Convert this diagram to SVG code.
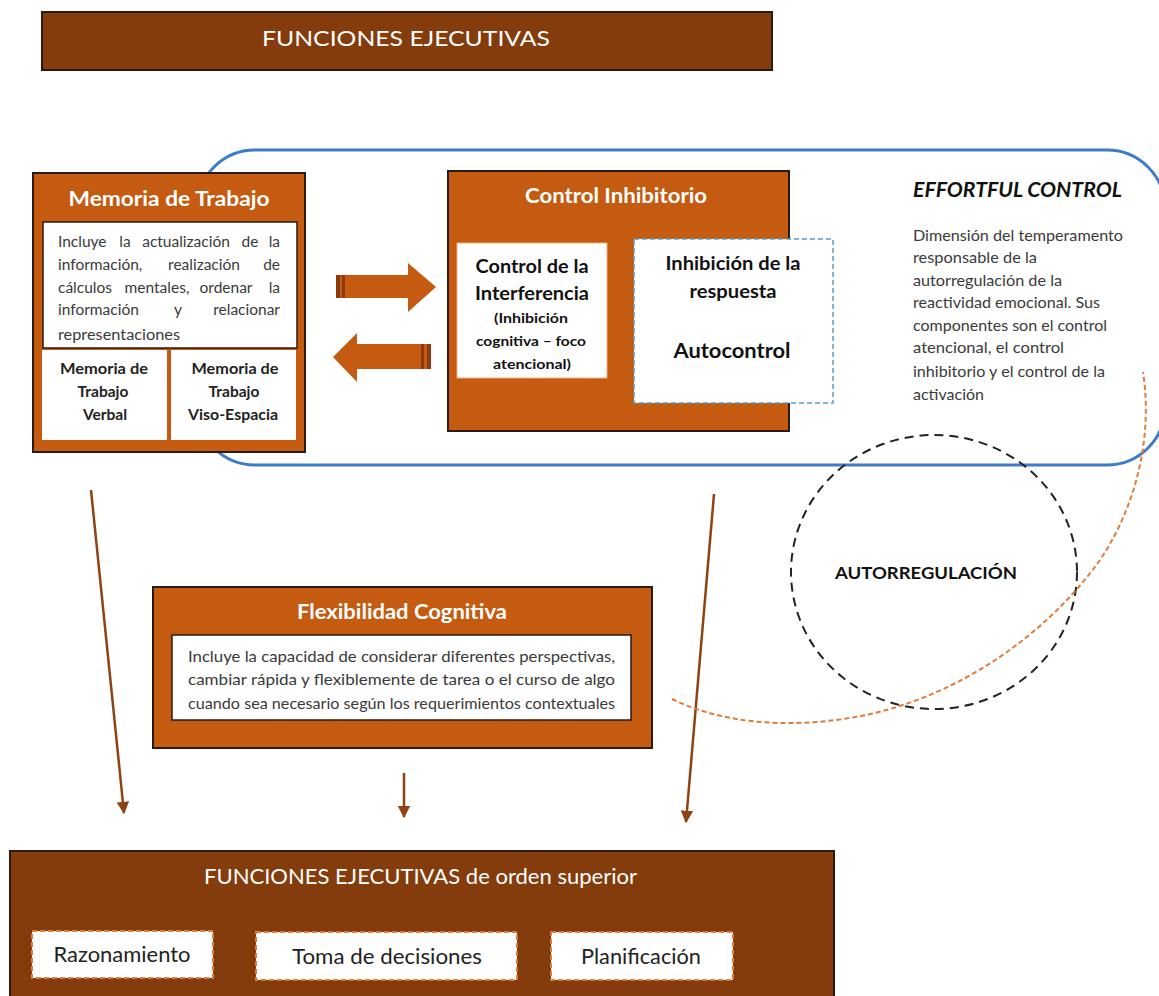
<svg xmlns="http://www.w3.org/2000/svg" width="1159" height="996" viewBox="0 0 1159 996">
  <style>
    .sans { font-family: Lato, "Liberation Sans", "DejaVu Sans", sans-serif; }
    .dark { fill: #843c0c; stroke: #2b1a10; stroke-width: 2; }
    .orange { fill: #c55a11; stroke: #2b1a10; stroke-width: 2; }
    .white { fill: #ffffff; }
    .ttl { fill: #ffffff; font-weight: bold; text-anchor: middle; }
    .body { fill: #3a3a3a; }
    .cell { fill: #222222; font-weight: bold; font-size: 15.5px; text-anchor: middle; }
    .conn { stroke: #8f4314; stroke-width: 2.5; fill: none; }
  </style>
  <defs>
    <marker id="ah" viewBox="0 0 10 10" refX="9" refY="5" markerWidth="5" markerHeight="5" orient="auto" markerUnits="strokeWidth">
      <path d="M0,0 L10,5 L0,10 z" fill="#8f4314"/>
    </marker>
    <clipPath id="memClip"><rect x="43" y="222" width="254" height="121"/></clipPath>
  </defs>
  <rect width="1159" height="996" fill="#ffffff"/>

  <!-- title banner -->
  <g id="banner">
    <rect class="dark" x="42" y="12" width="730" height="58"/>
    <text class="sans" x="262" y="46" fill="#ffffff" font-size="22" textLength="288" lengthAdjust="spacingAndGlyphs">FUNCIONES EJECUTIVAS</text>
  </g>

  <!-- effortful control outline -->
  <g id="effortful">
    <rect x="197" y="150" width="968" height="315" rx="58" fill="none" stroke="#3d7cc9" stroke-width="3"/>
    <text class="sans" x="913" y="197" font-size="20" font-weight="bold" font-style="italic" fill="#111111" textLength="209" lengthAdjust="spacingAndGlyphs">EFFORTFUL CONTROL</text>
    <g class="sans body" font-size="15">
      <text x="913" y="241" textLength="210" lengthAdjust="spacingAndGlyphs">Dimensión del temperamento</text>
      <text x="913" y="263" textLength="124" lengthAdjust="spacingAndGlyphs">responsable de la</text>
      <text x="913" y="286" textLength="149" lengthAdjust="spacingAndGlyphs">autorregulación de la</text>
      <text x="913" y="308" textLength="187" lengthAdjust="spacingAndGlyphs">reactividad emocional. Sus</text>
      <text x="913" y="331" textLength="194" lengthAdjust="spacingAndGlyphs">componentes son el control</text>
      <text x="913" y="353" textLength="151" lengthAdjust="spacingAndGlyphs">atencional, el control</text>
      <text x="913" y="377" textLength="192" lengthAdjust="spacingAndGlyphs">inhibitorio y el control de la</text>
      <text x="913" y="400" textLength="71" lengthAdjust="spacingAndGlyphs">activación</text>
    </g>
  </g>

  <!-- working memory -->
  <g id="memoria">
    <rect class="orange" x="33" y="173" width="272" height="279"/>
    <text class="sans ttl" x="169" y="206" font-size="21.5" textLength="201" lengthAdjust="spacingAndGlyphs">Memoria de Trabajo</text>
    <rect x="43" y="222" width="254" height="126" fill="#ffffff" stroke="#2b1a10" stroke-width="1.5"/>
    <!-- justified paragraph: words placed one by one; the last line runs under the box edge -->
    <g class="sans body" font-size="15.5" clip-path="url(#memClip)">
      <text x="58" y="247">Incluye</text>
      <text x="125" y="247" text-anchor="middle">la</text>
      <text x="186" y="247" text-anchor="middle">actualización</text>
      <text x="250" y="247" text-anchor="middle">de</text>
      <text x="280" y="247" text-anchor="end">la</text>
      <text x="58" y="270">información,</text>
      <text x="204" y="270" text-anchor="middle">realización</text>
      <text x="280" y="270" text-anchor="end">de</text>
      <text x="58" y="293">cálculos</text>
      <text x="157" y="293" text-anchor="middle">mentales,</text>
      <text x="226" y="293" text-anchor="middle">ordenar</text>
      <text x="280" y="293" text-anchor="end">la</text>
      <text x="58" y="315">información</text>
      <text x="178" y="315" text-anchor="middle">y</text>
      <text x="280" y="315" text-anchor="end">relacionar</text>
      <text x="58" y="340" textLength="122" lengthAdjust="spacingAndGlyphs">representaciones</text>
    </g>
    <rect class="white" x="42" y="350" width="125" height="90"/>
    <rect class="white" x="171" y="350" width="125" height="90"/>
    <g class="sans cell">
      <text x="104" y="374" textLength="88" lengthAdjust="spacingAndGlyphs">Memoria de</text>
      <text x="103" y="397">Trabajo</text>
      <text x="105" y="420">Verbal</text>
      <text x="235" y="374" textLength="87" lengthAdjust="spacingAndGlyphs">Memoria de</text>
      <text x="234" y="397">Trabajo</text>
      <text x="233" y="420" textLength="90" lengthAdjust="spacingAndGlyphs">Viso-Espacia</text>
    </g>
  </g>

  <!-- inhibitory control -->
  <g id="control">
    <rect class="orange" x="448" y="171" width="341" height="260"/>
    <text class="sans ttl" x="616" y="203" font-size="21" textLength="182" lengthAdjust="spacingAndGlyphs">Control Inhibitorio</text>
    <rect x="457" y="243" width="150" height="135" fill="#ffffff" stroke="#f4b183" stroke-width="1"/>
    <g class="sans" fill="#111111" font-weight="bold" text-anchor="middle">
      <text x="532" y="273" font-size="19" textLength="113" lengthAdjust="spacingAndGlyphs">Control de la</text>
      <text x="532" y="300" font-size="19" textLength="114" lengthAdjust="spacingAndGlyphs">Interferencia</text>
      <text x="531" y="323" font-size="14" textLength="74" lengthAdjust="spacingAndGlyphs">(Inhibición</text>
      <text x="531" y="346" font-size="14" textLength="110" lengthAdjust="spacingAndGlyphs">cognitiva – foco</text>
      <text x="532" y="369" font-size="14" textLength="78" lengthAdjust="spacingAndGlyphs">atencional)</text>
    </g>
    <rect x="634" y="239" width="199" height="164" fill="#ffffff" stroke="#5b9bd5" stroke-width="1.5" stroke-dasharray="5 3"/>
    <g class="sans" fill="#111111" font-weight="bold" text-anchor="middle">
      <text x="733" y="270" font-size="19" textLength="135" lengthAdjust="spacingAndGlyphs">Inhibición de la</text>
      <text x="733" y="298" font-size="19" textLength="87" lengthAdjust="spacingAndGlyphs">respuesta</text>
      <text x="732" y="358" font-size="21" textLength="117" lengthAdjust="spacingAndGlyphs">Autocontrol</text>
    </g>
  </g>

  <!-- self-regulation -->
  <g id="autorregulacion">
    <ellipse cx="934" cy="572" rx="143" ry="137" fill="none" stroke="#222222" stroke-width="2" stroke-dasharray="9 6"/>
    <text class="sans" x="926" y="579" font-size="17" font-weight="bold" fill="#111111" text-anchor="middle" textLength="182" lengthAdjust="spacingAndGlyphs">AUTORREGULACIÓN</text>
  </g>

  <!-- cognitive flexibility -->
  <g id="flexibilidad">
    <rect class="orange" x="153" y="587" width="499" height="161"/>
    <text class="sans ttl" x="402" y="619" font-size="20.5" textLength="210" lengthAdjust="spacingAndGlyphs">Flexibilidad Cognitiva</text>
    <rect x="172" y="635" width="459" height="85" fill="#ffffff" stroke="#2b1a10" stroke-width="1.5"/>
    <g class="sans body" font-size="15">
      <text x="188" y="662" textLength="427" lengthAdjust="spacingAndGlyphs">Incluye la capacidad de considerar diferentes perspectivas,</text>
      <text x="188" y="685" textLength="427" lengthAdjust="spacingAndGlyphs">cambiar rápida y flexiblemente de tarea o el curso de algo</text>
      <text x="188" y="709" textLength="427" lengthAdjust="spacingAndGlyphs">cuando sea necesario según los requerimientos contextuales</text>
    </g>
  </g>

  <!-- higher-order executive functions -->
  <g id="superior">
    <rect class="dark" x="10" y="851" width="824" height="150"/>
    <text class="sans" x="204" y="884" fill="#ffffff" font-size="21" textLength="433" lengthAdjust="spacingAndGlyphs">FUNCIONES EJECUTIVAS de orden superior</text>
    <g fill="#ffffff" stroke="#e07b39" stroke-width="2" stroke-dasharray="5 3">
      <rect x="32" y="931" width="181" height="47"/>
      <rect x="256" y="932" width="261" height="48"/>
      <rect x="551" y="932" width="182" height="48"/>
    </g>
    <g class="sans" fill="#222222" font-size="21" text-anchor="middle">
      <text x="122" y="962" textLength="137" lengthAdjust="spacingAndGlyphs">Razonamiento</text>
      <text x="387" y="964" textLength="190" lengthAdjust="spacingAndGlyphs">Toma de decisiones</text>
      <text x="641" y="964" textLength="120" lengthAdjust="spacingAndGlyphs">Planificación</text>
    </g>
  </g>

  <!-- connectors -->
  <g id="connectors">
    <g fill="#c55a11">
      <path d="M336,275 L408,275 L408,263 L436,287 L408,312 L408,298 L336,298 z"/>
      <path d="M431,344 L357,344 L357,333 L333,357 L357,382 L357,369 L431,369 z"/>
    </g>
    <g fill="#8a3a0c">
      <rect x="336" y="275" width="4" height="23"/>
      <rect x="342" y="275" width="3" height="23"/>
      <rect x="427" y="344" width="4" height="25"/>
      <rect x="421" y="344" width="3" height="25"/>
    </g>
    <path class="conn" d="M91,490 L124,813" marker-end="url(#ah)"/>
    <path class="conn" d="M404,773 L404,817" stroke-width="3" marker-end="url(#ah)"/>
    <path class="conn" d="M714,494 L686,822" marker-end="url(#ah)"/>
    <path d="M672,699 C720,722 780,729 850,718 C960,700 1050,630 1100,560 C1140,500 1152,430 1143,372" fill="none" stroke="#e07b39" stroke-width="2" stroke-dasharray="5 3"/>
  </g>
</svg>
